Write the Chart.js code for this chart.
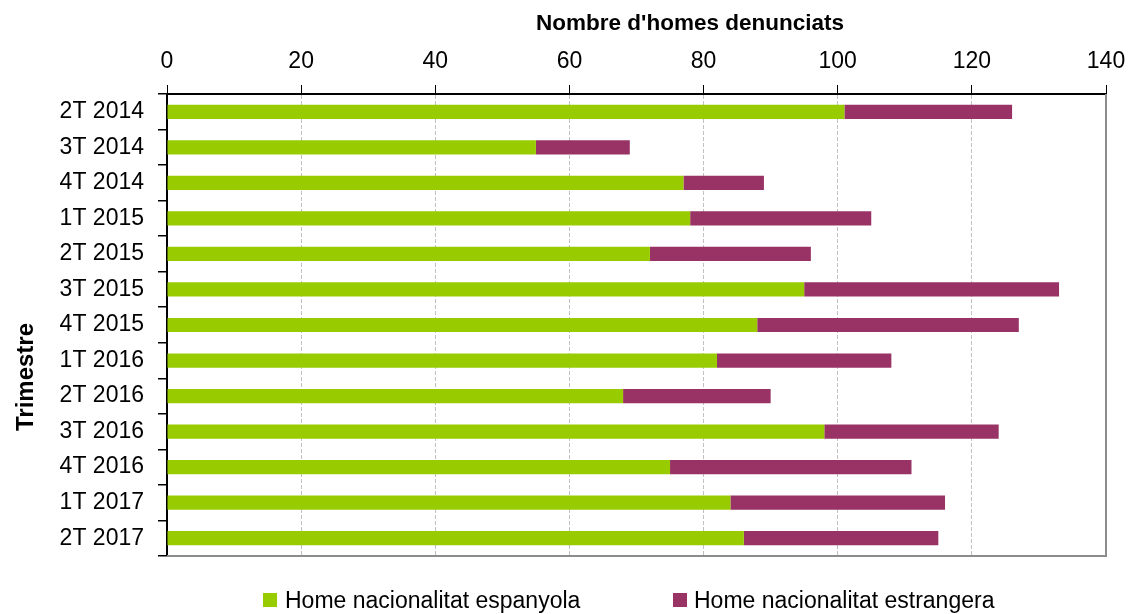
<!DOCTYPE html>
<html>
<head>
<meta charset="utf-8">
<script src="https://cdn.jsdelivr.net/npm/chart.js@4"></script>
<style>
html,body{margin:0;padding:0;background:#fff;}
#wrap{width:1129px;height:614px;position:relative;}
</style>
</head>
<body>
<div id="wrap"><canvas id="c" width="1129" height="614"></canvas></div>
<script>
const categories = ["2T 2014","3T 2014","4T 2014","1T 2015","2T 2015","3T 2015","4T 2015","1T 2016","2T 2016","3T 2016","4T 2016","1T 2017","2T 2017"];
const espanyola = [101,55,77,78,72,95,88,82,68,98,75,84,86];
const estrangera = [25,14,12,27,24,38,39,26,22,26,36,32,29];
const xTicks = [0,20,40,60,80,100,120,140];
const seriesNames = ["Home nacionalitat espanyola","Home nacionalitat estrangera"];
const seriesColors = ["#99cc00","#993366"];
const xTitle = "Nombre d'homes denunciats";
const yTitle = "Trimestre";

const FONT = "'Liberation Sans',Arial,sans-serif";

const decorPlugin = {
  id: 'decor',
  afterDatasetsDraw(chart) {
    const {ctx, chartArea: a} = chart;
    ctx.save();
    ctx.strokeStyle = '#8c8c8c';
    ctx.lineWidth = 2;
    ctx.beginPath();
    ctx.moveTo(a.right, a.top);
    ctx.lineTo(a.right, a.bottom);
    ctx.lineTo(a.left, a.bottom);
    ctx.stroke();
    ctx.restore();
  },
  afterDraw(chart) {
    const {ctx} = chart;
    ctx.save();
    ctx.fillStyle = '#000';
    ctx.textBaseline = 'alphabetic';
    // x axis title
    ctx.font = "bold 22.5px " + FONT;
    ctx.textAlign = 'center';
    ctx.fillText(xTitle, 690, 30);
    // y axis title (rotated)
    ctx.save();
    ctx.translate(33, 377);
    ctx.rotate(-Math.PI / 2);
    ctx.font = "bold 24px " + FONT;
    ctx.textAlign = 'center';
    ctx.fillText(yTitle, 0, 0);
    ctx.restore();
    // legend
    ctx.font = "23px " + FONT;
    ctx.textAlign = 'left';
    const items = [{bx: 263, tx: 285}, {bx: 673, tx: 694}];
    chart.data.datasets.forEach((ds, i) => {
      ctx.fillStyle = ds.backgroundColor;
      ctx.fillRect(items[i].bx, 593, 14, 14);
      ctx.fillStyle = '#000';
      ctx.fillText(ds.label, items[i].tx, 608);
    });
    ctx.restore();
  }
};

new Chart(document.getElementById('c'), {
  type: 'bar',
  data: {
    labels: categories,
    datasets: [
      {label: seriesNames[0], data: espanyola, backgroundColor: seriesColors[0], borderWidth: 0, categoryPercentage: 1, barPercentage: 0.4},
      {label: seriesNames[1], data: estrangera, backgroundColor: seriesColors[1], borderWidth: 0, categoryPercentage: 1, barPercentage: 0.4}
    ]
  },
  options: {
    indexAxis: 'y',
    responsive: false,
    animation: false,
    devicePixelRatio: 1,
    layout: {padding: {left: 0, right: 23, top: 0, bottom: 58}},
    scales: {
      x: {
        position: 'top',
        stacked: true,
        min: 0, max: 140,
        afterBuildTicks(scale) { scale.ticks = xTicks.map(v => ({value: v})); },
        afterFit(scale) { scale.height = 94; scale.paddingLeft = 0; scale.paddingRight = 0; },
        ticks: {color: '#000', font: {family: FONT, size: 23}, padding: 10, maxRotation: 0, autoSkip: false},
        grid: {color: '#c0c0c0', tickColor: '#000', tickLength: 9, lineWidth: 1, tickBorderDash: [], borderDash: [4,2]},
        border: {display: true, color: '#000', width: 2, dash: [4,2]},
        title: {display: false}
      },
      y: {
        stacked: true,
        afterFit(scale) { scale.width = 167; scale.paddingTop = 0; scale.paddingBottom = 0; },
        ticks: {color: '#000', font: {family: FONT, size: 23}, padding: 14, autoSkip: false},
        grid: {drawOnChartArea: false, color: '#000', tickLength: 9, lineWidth: 1.5, offset: true},
        border: {display: true, color: '#000', width: 2},
        title: {display: false}
      }
    },
    plugins: {
      legend: {display: false},
      tooltip: {enabled: false}
    }
  },
  plugins: [decorPlugin]
});
</script>
</body>
</html>
